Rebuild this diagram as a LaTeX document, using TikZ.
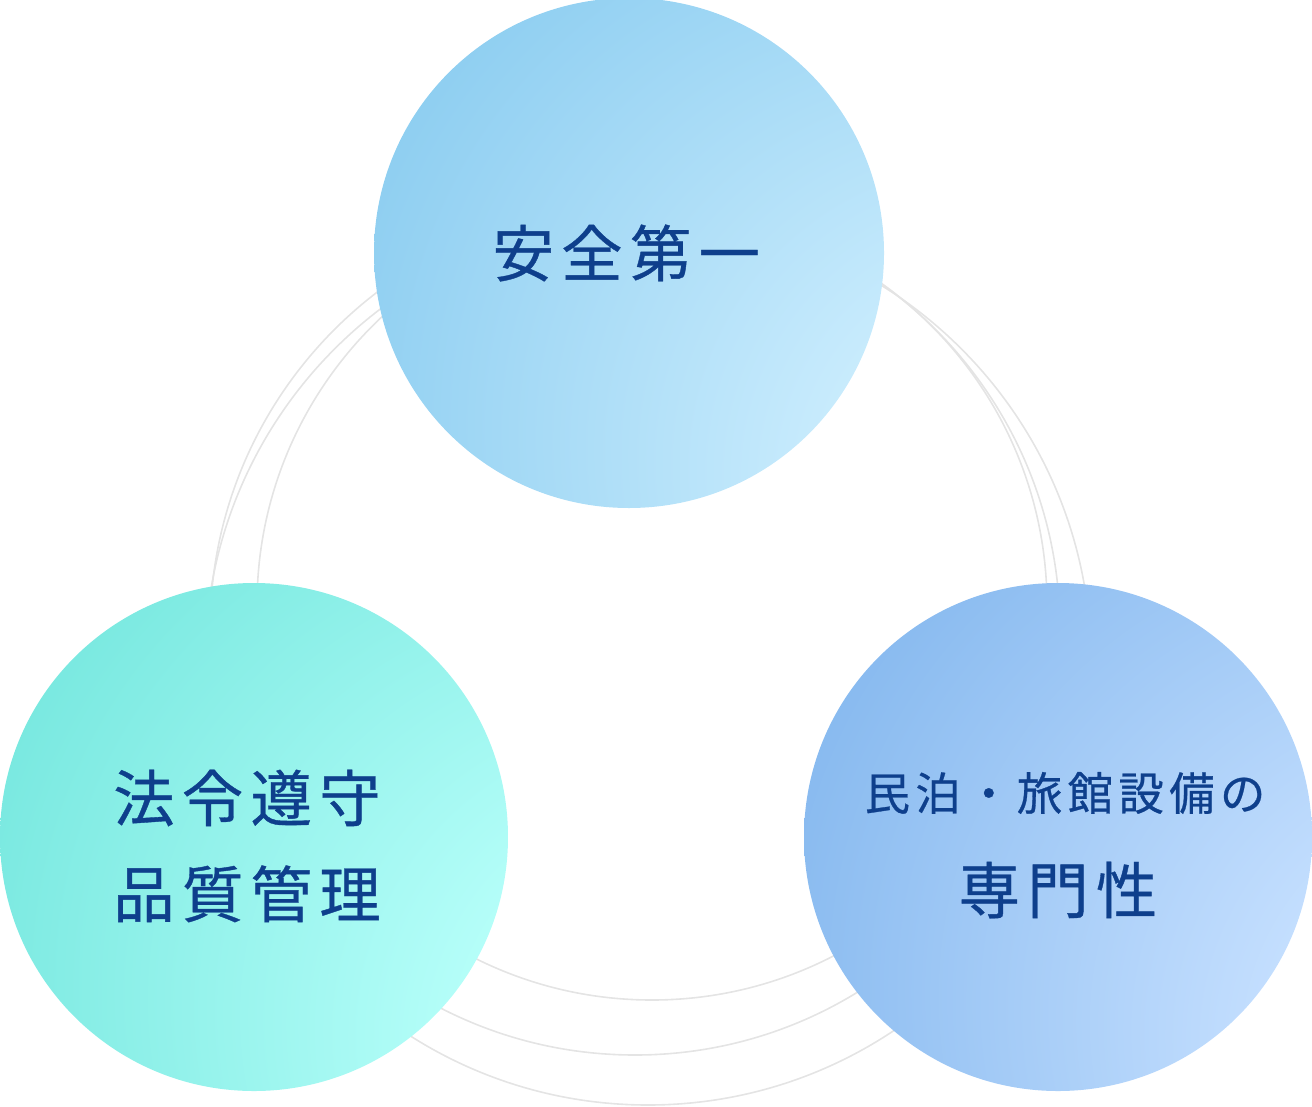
\documentclass[tikz,border=0pt]{standalone}
\usepackage{fontspec}
\newfontfamily\cjk[LetterSpace=12,FakeBold=0.6]{Noto Sans CJK JP}
\definecolor{ringgray}{HTML}{E4E4E4}
\definecolor{textblue}{HTML}{0E3F8C}
\pgfdeclareradialshading{topball}{\pgfpoint{51bp}{-30bp}}{rgb(0bp)=(1,1,1); rgb(22bp)=(0.78,0.92,0.99); rgb(70bp)=(0.44,0.75,0.92); rgb(100bp)=(0.04,0.50,0.79)}
\pgfdeclareradialshading{leftball}{\pgfpoint{57bp}{-28bp}}{rgb(0bp)=(1,1,1); rgb(22bp)=(0.72,1,0.98); rgb(70bp)=(0.36,0.87,0.83); rgb(100bp)=(0.05,0.64,0.58)}
\pgfdeclareradialshading{rightball}{\pgfpoint{58bp}{-28bp}}{rgb(0bp)=(1,1,1); rgb(22bp)=(0.78,0.88,1); rgb(70bp)=(0.42,0.66,0.91); rgb(100bp)=(0.04,0.19,0.77)}
\begin{document}
\begin{tikzpicture}[x=0.75pt, y=-0.75pt,
    ring/.style={draw=ringgray, line width=1.2pt},
    ball/.style={circle, inner sep=0pt, minimum size=381pt},
    label/.style={text=textblue, align=center, font=\cjk\fontsize{46}{72}\selectfont}]
  \useasboundingbox (0,0) rectangle (1312,1106);
  % background rings
  \draw[ring] (648,662) circle (443);
  \draw[ring] (652,605) circle (395);
  \draw[ring] (635,630) circle (425);
  % spheres
  \shade[shading=topball] (629,253) circle (255);
  \shade[shading=leftball] (254,837) circle (254);
  \shade[shading=rightball] (1058,837) circle (254);
  \node[ball] (safety) at (629,253) {};
  \node[ball] (law) at (254,837) {};
  \node[ball] (expert) at (1058,837) {};
  % texts
  \node[label] (safetytext) at ([xshift=-2pt]safety.center) {安全第一};
  \node[label] (lawtext) at (247,846) {法令遵守\\品質管理};
  \node[label, font=\cjk\fontsize{34}{70}\selectfont] (experttop) at (1065,793) {民泊・旅館設備の};
  \node[label] (expertbottom) at (1058,890) {専門性};
\end{tikzpicture}
\end{document}
